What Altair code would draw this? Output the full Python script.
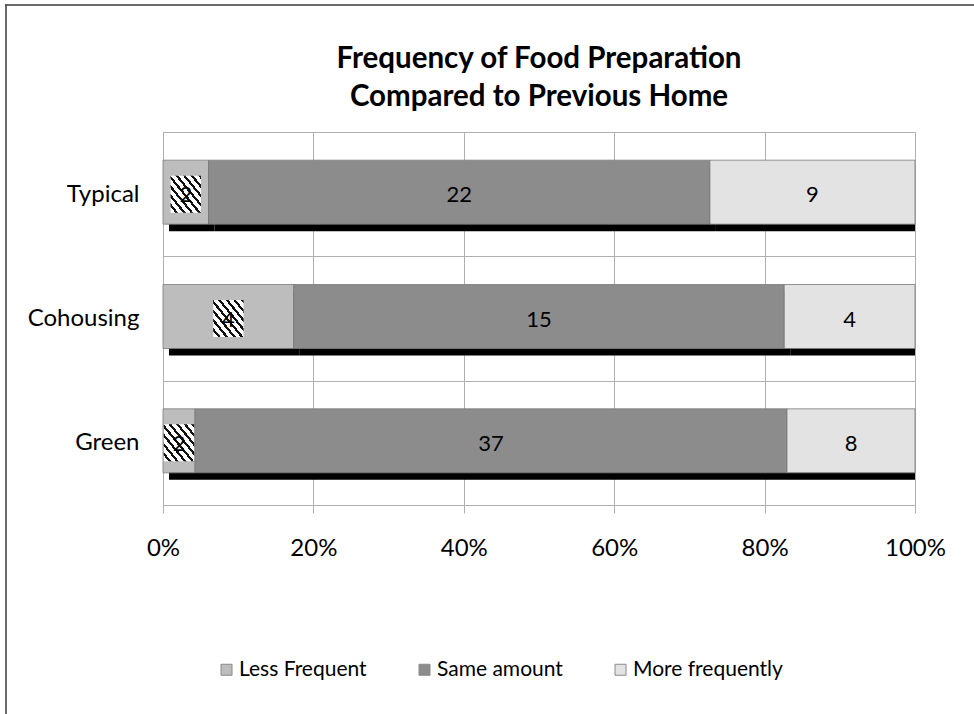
import altair as alt
import pandas as pd

# Survey responses per housing group
groups = ["Typical", "Cohousing", "Green"]
responses = ["Less Frequent", "Same amount", "More frequently"]
less_frequent = [2, 4, 2]
same_amount = [22, 15, 37]
more_frequently = [9, 4, 8]

series = [less_frequent, same_amount, more_frequently]
rows = []
for gi, g in enumerate(groups):
    for ri, r in enumerate(responses):
        rows.append({"group": g, "response": r, "count": series[ri][gi], "order": ri})
df = pd.DataFrame(rows)

FONT = "Lato"
palette = ["#bdbdbd", "#8c8c8c", "#e3e3e3"]

W, H = 752, 373
PAD = {"left": 163, "top": 132, "right": 974 - 163 - W, "bottom": 714 - 132 - H}

base = alt.Chart(df).transform_stack(
    stack="count",
    groupby=["group"],
    as_=["x0", "x1"],
    offset="normalize",
    sort=[alt.SortField("order", order="ascending")],
).transform_calculate(mid="(datum.x0 + datum.x1) / 2")

y_enc = alt.Y(
    "group:N",
    sort=groups,
    title=None,
    scale=alt.Scale(paddingInner=0, paddingOuter=0),
    axis=alt.Axis(
        grid=True,
        tickBand="extent",
        ticks=False,
        domain=True,
        domainColor="#b0b0b0",
        gridColor="#b0b0b0",
        labelFont=FONT,
        labelFontSize=24,
        labelColor="#000000",
        labelPadding=24,
    ),
)

x_enc = alt.X(
    "x0:Q",
    title=None,
    scale=alt.Scale(domain=[0, 1], nice=False),
    axis=alt.Axis(
        format="%",
        values=[0, 0.2, 0.4, 0.6, 0.8, 1.0],
        grid=True,
        gridColor="#b0b0b0",
        domainColor="#b0b0b0",
        tickColor="#b0b0b0",
        tickSize=8,
        labelFlush=False,
        labelFont=FONT,
        labelFontSize=24,
        labelColor="#000000",
        labelPadding=23,
    ),
)

# Drop shadow under each bar
shadow = base.mark_bar(
    size=64, color="#000000", xOffset=6, x2Offset=6, yOffset=5, clip=True
).encode(x=x_enc, x2="x1:Q", y=y_enc)

bars = base.mark_bar(size=64, yOffset=-2, stroke="#7a7a7a", strokeWidth=0.8).encode(
    x=x_enc,
    x2="x1:Q",
    y=y_enc,
    color=alt.Color(
        "response:N",
        sort=responses,
        scale=alt.Scale(domain=responses, range=palette),
        legend=alt.Legend(
            title=None,
            orient="none",
            direction="horizontal",
            legendX=53,
            legendY=527,
            symbolType="square",
            symbolSize=121,
            symbolStrokeColor="#8a8a8a",
            symbolStrokeWidth=1,
            symbolOpacity=1,
            labelFont=FONT,
            labelFontSize=21,
            labelColor="#000000",
            labelOffset=2,
            columnPadding=47,
        ),
    ),
    order=alt.Order("order:Q"),
)

# Hatched background behind the "Less Frequent" labels
stops = []
n = 8
for k in range(n):
    a = k / n
    b = a + 0.62 / n
    c = (k + 1) / n
    stops += [
        alt.GradientStop(offset=a, color="#ffffff"),
        alt.GradientStop(offset=b, color="#ffffff"),
        alt.GradientStop(offset=b, color="#111111"),
        alt.GradientStop(offset=c, color="#111111"),
    ]
hatch = alt.LinearGradient(gradient="linear", x1=0, y1=1, x2=1, y2=0, stops=stops)

label_box = base.transform_filter(alt.datum.response == "Less Frequent").mark_point(
    shape="M-0.82,-1H0.82V1H-0.82Z",
    size=1369,
    filled=True,
    fill=hatch,
    opacity=1,
    strokeWidth=0,
).encode(x="mid:Q", y=alt.Y("group:N", sort=groups))

labels = base.mark_text(font=FONT, fontSize=22, color="#000000", dy=1).encode(
    x="mid:Q", y=alt.Y("group:N", sort=groups), text="count:Q"
)

# Outer frame lines
frame_df = pd.DataFrame({"k": [0]})
frame_top = alt.Chart(frame_df).mark_rule(color="#3a3a3a", strokeWidth=1.5).encode(
    x=alt.value(5 - PAD["left"]), x2=alt.value(974 - PAD["left"]), y=alt.value(5 - PAD["top"])
)
frame_left = alt.Chart(frame_df).mark_rule(color="#3a3a3a", strokeWidth=1.5).encode(
    x=alt.value(6 - PAD["left"]), y=alt.value(5 - PAD["top"]), y2=alt.value(714 - PAD["top"])
)

chart = alt.layer(shadow, bars, label_box, labels, frame_top, frame_left).properties(
    width=W,
    height=H,
    padding=PAD,
    autosize=alt.AutoSizeParams(type="none"),
    title=alt.TitleParams(
        ["Frequency of Food Preparation", "Compared to Previous Home"],
        font=FONT,
        fontSize=29.5,
        fontWeight="bold",
        color="#000000",
        anchor="middle",
        baseline="alphabetic",
        offset=0,
        dy=130.75,
        lineHeight=38,
    ),
).configure_view(stroke=None).configure(background="#ffffff")

chart.save("out.html", embed_options={"renderer": "svg", "actions": False})
